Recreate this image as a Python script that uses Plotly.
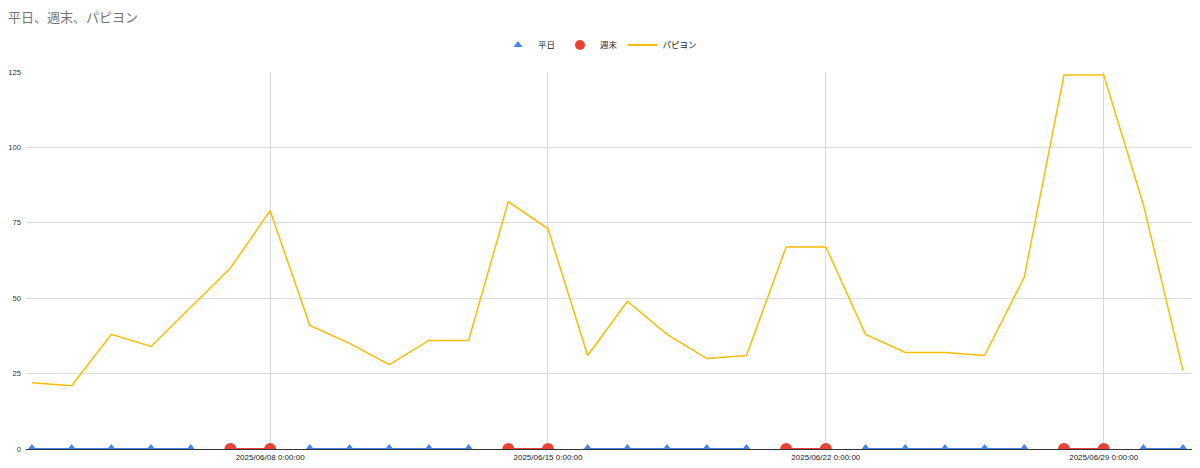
import plotly.graph_objects as go
import pandas as pd

dates = pd.date_range("2025-06-02", "2025-07-01", freq="D")
papillon = [22, 21, 38, 34, 47, 60, 79, 41, 35, 28, 36, 36, 82, 73, 31, 49, 38, 30, 31,
            67, 67, 38, 32, 32, 31, 57, 124, 124, 81, 26]
weekday_vals = [0 if d.weekday() < 5 else None for d in dates]
weekend_vals = [0 if d.weekday() >= 5 else None for d in dates]
tick_dates = ["2025-06-08", "2025-06-15", "2025-06-22", "2025-06-29"]
tick_text = ["2025/06/08 0:00:00", "2025/06/15 0:00:00", "2025/06/22 0:00:00", "2025/06/29 0:00:00"]
y_ticks = [0, 25, 50, 75, 100, 125]

FONT = "Arial, Liberation Sans, Noto Sans CJK JP, sans-serif"
BLUE, RED, YELLOW = "#4285F4", "#EA4335", "#FBBC04"

fig = go.Figure()
fig.add_trace(go.Scatter(
    x=dates, y=weekday_vals, name="平日", mode="lines+markers",
    line=dict(color=BLUE, width=2),
    marker=dict(symbol="triangle-up", size=10, color=BLUE),
    cliponaxis=True, connectgaps=False, showlegend=False,
))
fig.add_trace(go.Scatter(
    x=dates, y=weekend_vals, name="週末", mode="lines+markers",
    line=dict(color=RED, width=2),
    marker=dict(symbol="circle", size=12, color=RED),
    cliponaxis=True, connectgaps=False, showlegend=False,
))
fig.add_trace(go.Scatter(
    x=dates, y=papillon, name="パピヨン", mode="lines",
    line=dict(color=YELLOW, width=1.5),
    cliponaxis=False, showlegend=False,
))
# legend entries (symbol-only for weekday/weekend, line for パピヨン)
fig.add_trace(go.Scatter(x=[None], y=[None], name="平日", mode="markers",
                         marker=dict(symbol="triangle-up", size=8, color=BLUE)))
fig.add_trace(go.Scatter(x=[None], y=[None], name="週末", mode="markers",
                         marker=dict(symbol="circle", size=10, color=RED)))
fig.add_trace(go.Scatter(x=[None], y=[None], name="パピヨン", mode="lines",
                         line=dict(color=YELLOW, width=2)))

fig.update_layout(
    width=1200, height=468,
    margin=dict(l=26, r=8, t=72, b=19, autoexpand=False),
    paper_bgcolor="white", plot_bgcolor="white",
    font=dict(family=FONT, size=8, color="#222222"),
    title=dict(text="平日、週末、パピヨン", x=8/1200, xref="container", xanchor="left",
               y=1 - 17/468, yanchor="middle",
               font=dict(size=13, color="#757575", family=FONT)),
    legend=dict(orientation="h", xref="container", yref="container",
                x=0.5, xanchor="center", y=1 - 45/468, yanchor="middle",
                font=dict(size=8.5, color="#222222"), itemwidth=30, tracegroupgap=0),
    showlegend=True,
)
fig.update_xaxes(
    range=[pd.Timestamp("2025-06-02") - pd.Timedelta(hours=3.6),
           pd.Timestamp("2025-07-01") + pd.Timedelta(hours=5.4)],
    tickmode="array", tickvals=tick_dates, ticktext=tick_text,
    showgrid=True, gridcolor="#d9d9d9", gridwidth=1,
    showline=False, zeroline=False, ticks="", automargin=False,
    ticklabelstandoff=2,
    tickfont=dict(size=8, color="#222222"),
)
fig.update_yaxes(
    range=[0, 125], tickmode="array", tickvals=y_ticks,
    showgrid=True, gridcolor="#d9d9d9", gridwidth=1,
    zeroline=True, zerolinecolor="#333333", zerolinewidth=1,
    showline=False, ticks="", automargin=False,
    ticklabelstandoff=4,
    tickfont=dict(size=7.6, color="#333333"),
)

fig.write_html("out.html", config={"displayModeBar": False},
               post_script="document.body.style.margin='0';document.body.style.overflow='hidden';")
